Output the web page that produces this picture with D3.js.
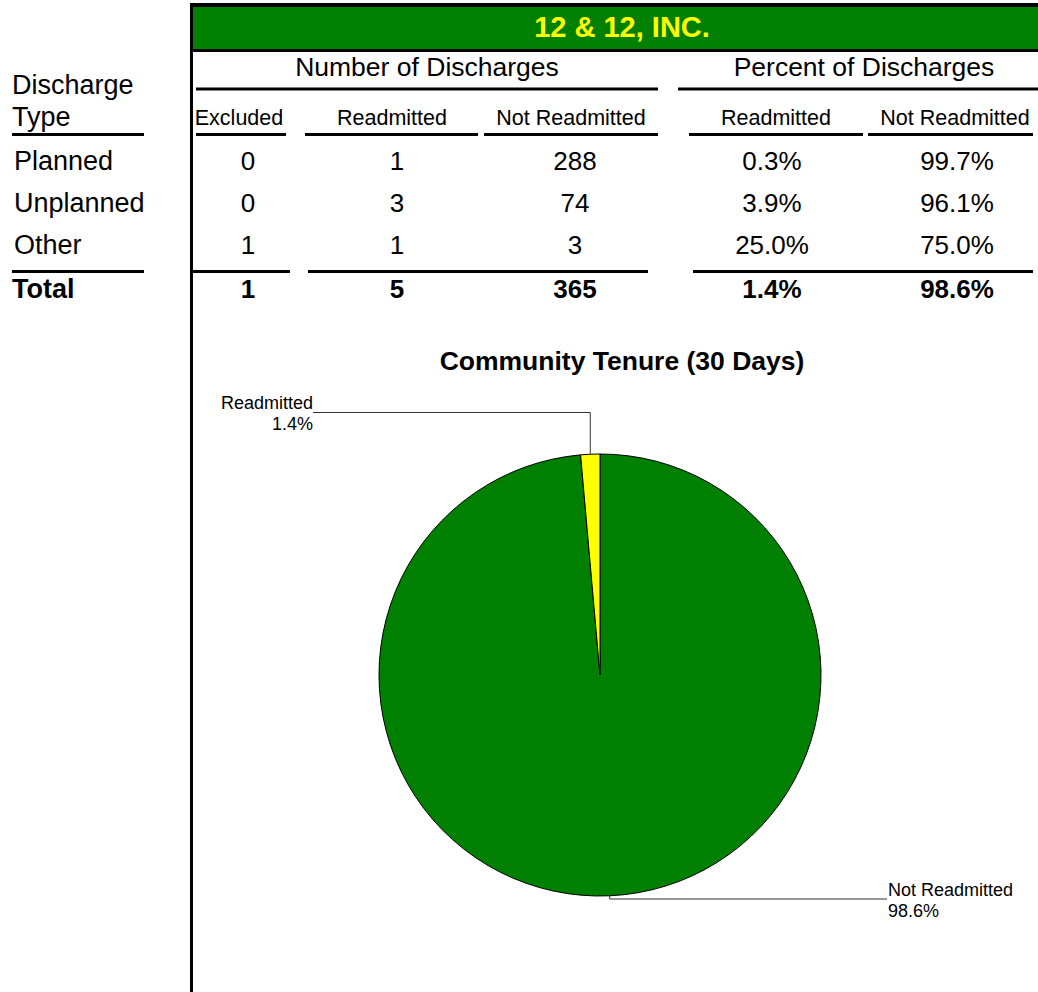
<!DOCTYPE html>
<html>
<head>
<meta charset="utf-8">
<script src="https://cdn.jsdelivr.net/npm/d3@7"></script>
<style>
  body { margin: 0; background: #fff; }
  svg { display: block; font-family: "Liberation Sans", Arial, sans-serif; }
</style>
</head>
<body>
<div id="chart"></div>
<script>
// ---- data ----
var title = "12 & 12, INC.";
var pieTitle = "Community Tenure (30 Days)";
var dischargeTypes = ["Planned", "Unplanned", "Other"];
var excluded = [0, 0, 1];
var readmitted = [1, 3, 1];
var notReadmitted = [288, 74, 3];
var pctReadmitted = [0.3, 3.9, 25.0];
var pctNotReadmitted = [99.7, 96.1, 75.0];
var totalCounts = [1, 5, 365];
var totalPct = [1.4, 98.6];
var columnLabels = ["Excluded", "Readmitted", "Not Readmitted", "Readmitted", "Not Readmitted"];
var pieLabels = ["Not Readmitted", "Readmitted"];
var pieValues = [98.6, 1.4];

var width = 1038, height = 992;

var svg = d3.select("#chart")
    .append("svg")
    .attr("width", width)
    .attr("height", height);

// column centres (one per value column)
var x = d3.scaleOrdinal()
    .domain(d3.range(5))
    .range([248, 397, 575, 772, 957]);

// row baselines
var y = d3.scalePoint()
    .domain(dischargeTypes)
    .range([170, 254]);
var totalY = 298;

function pct(v) { return v.toFixed(1) + "%"; }

// green title band
svg.append("rect")
    .attr("x", 191).attr("y", 5)
    .attr("width", width - 191).attr("height", 45)
    .attr("fill", "#008000");
svg.append("line")
    .attr("x1", 190).attr("x2", width).attr("y1", 5).attr("y2", 5)
    .attr("stroke", "#000").attr("stroke-width", 4);
svg.append("line")
    .attr("x1", 190).attr("x2", width).attr("y1", 50.5).attr("y2", 50.5)
    .attr("stroke", "#000").attr("stroke-width", 3);
svg.append("line")
    .attr("x1", 191.5).attr("x2", 191.5).attr("y1", 3).attr("y2", height)
    .attr("stroke", "#000").attr("stroke-width", 3);

svg.append("text")
    .attr("x", 622).attr("y", 37)
    .attr("text-anchor", "middle")
    .style("font-size", "29px").style("font-weight", "bold")
    .attr("fill", "#ffff00")
    .text(title);

// group headers
svg.append("text").attr("x", 427).attr("y", 76).attr("text-anchor", "middle")
    .style("font-size", "26.5px").text("Number of Discharges");
svg.append("text").attr("x", 864).attr("y", 76).attr("text-anchor", "middle")
    .style("font-size", "26.5px").text("Percent of Discharges");

svg.append("text").attr("x", 12).attr("y", 94).style("font-size", "27px").text("Discharge");
svg.append("text").attr("x", 12).attr("y", 126).style("font-size", "27px").text("Type");

var subX = [239, 392, 571, 776, 955];
svg.append("g").selectAll("text")
    .data(columnLabels)
    .enter().append("text")
    .attr("x", function (d, i) { return subX[i]; })
    .attr("y", 125)
    .attr("text-anchor", "middle")
    .style("font-size", "21.5px")
    .text(function (d) { return d; });

// rules
var rules = [
    [196, 658, 89], [678, 1038, 89],
    [12, 144, 134.5], [196, 286, 134.5], [305, 478, 134.5], [484, 658, 134.5], [689, 863, 134.5], [868, 1033, 134.5],
    [12, 144, 271.5], [190, 290, 271.5], [308, 648, 271.5], [693, 1033, 271.5]
];
svg.append("g").selectAll("line")
    .data(rules)
    .enter().append("line")
    .attr("x1", function (d) { return d[0]; })
    .attr("x2", function (d) { return d[1]; })
    .attr("y1", function (d) { return d[2]; })
    .attr("y2", function (d) { return d[2]; })
    .attr("stroke", "#000").attr("stroke-width", 3);

// body rows
var rows = dischargeTypes.map(function (t, i) {
    return { type: t, vals: [excluded[i], readmitted[i], notReadmitted[i], pct(pctReadmitted[i]), pct(pctNotReadmitted[i])] };
});

var rowG = svg.append("g").selectAll("g")
    .data(rows)
    .enter().append("g")
    .attr("transform", function (d) { return "translate(0," + y(d.type) + ")"; })
    .style("font-size", "26px");

rowG.append("text").attr("x", 14).style("font-size", "27px").text(function (d) { return d.type; });
rowG.selectAll("text.v")
    .data(function (d) { return d.vals; })
    .enter().append("text")
    .attr("class", "v")
    .attr("x", function (d, i) { return x(i); })
    .attr("text-anchor", "middle")
    .text(function (d) { return d; });

// total row
var totalVals = totalCounts.concat(totalPct.map(pct));
var totG = svg.append("g")
    .attr("transform", "translate(0," + totalY + ")")
    .style("font-size", "26px").style("font-weight", "bold");
totG.append("text").attr("x", 12).style("font-size", "27px").text("Total");
totG.selectAll("text.v")
    .data(totalVals)
    .enter().append("text")
    .attr("class", "v")
    .attr("x", function (d, i) { return x(i); })
    .attr("text-anchor", "middle")
    .text(function (d) { return d; });

// ---- pie ----
var cx = 600, cy = 675, r = 221;
svg.append("text").attr("x", 622).attr("y", 370).attr("text-anchor", "middle")
    .style("font-size", "26.5px").style("font-weight", "bold").text(pieTitle);

var colour = d3.scaleOrdinal().domain(pieLabels).range(["#008000", "#ffff00"]);
var pie = d3.pie().sort(null);
var arcs = pie(pieValues);
var arc = d3.arc().innerRadius(0).outerRadius(r);
var edge = d3.arc().innerRadius(r).outerRadius(r);

var pieG = svg.append("g").attr("transform", "translate(" + cx + "," + cy + ")");
pieG.selectAll("path")
    .data(arcs)
    .enter().append("path")
    .attr("d", arc)
    .attr("fill", function (d, i) { return colour(pieLabels[i]); })
    .attr("stroke", "#000").attr("stroke-width", 1);

// leader lines + labels
var labelSpec = [
    { dy: r + 3, xEnd: 887, anchor: "start" },   // Not Readmitted
    { dy: -(r + 41.5), xEnd: 313, anchor: "end" } // Readmitted
];
arcs.forEach(function (d, i) {
    var p = edge.centroid(d);
    var s = labelSpec[i];
    pieG.append("path")
        .attr("d", "M" + p[0] + "," + p[1] + "V" + s.dy + "H" + (s.xEnd - cx))
        .attr("fill", "none").attr("stroke", "#333").attr("stroke-width", 1);
    var tx = s.anchor === "start" ? s.xEnd - cx + 1 : s.xEnd - cx;
    var t = pieG.append("text")
        .attr("text-anchor", s.anchor)
        .style("font-size", "18px");
    if (i === 0) {
        t.append("tspan").attr("x", tx).attr("y", s.dy - 3).text(pieLabels[i]);
        t.append("tspan").attr("x", tx).attr("y", s.dy + 18).text(pct(pieValues[i]));
    } else {
        t.append("tspan").attr("x", tx).attr("y", s.dy - 4).text(pieLabels[i]);
        t.append("tspan").attr("x", tx).attr("y", s.dy + 17).text(pct(pieValues[i]));
    }
});
</script>
</body>
</html>
